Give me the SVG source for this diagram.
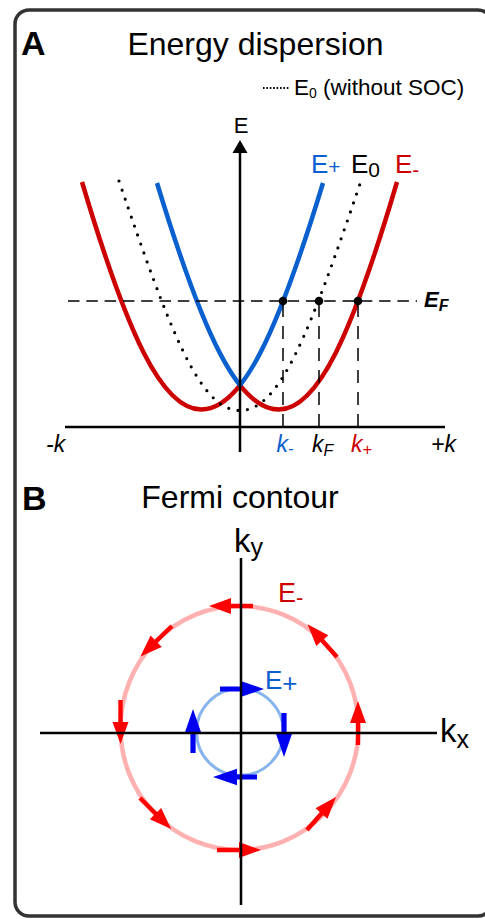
<svg xmlns="http://www.w3.org/2000/svg" xmlns:xlink="http://www.w3.org/1999/xlink" width="485" height="919" viewBox="0 0 485 919">
<style>
text{font-family:"Liberation Sans",Arial,sans-serif;}
.ax{stroke:#000;stroke-width:2.5;fill:none;}
.red{stroke:#cc0000;stroke-width:4.5;fill:none;}
.blue{stroke:#0a60cf;stroke-width:4.5;fill:none;}
.dot{stroke:#000;stroke-width:3.2;fill:none;stroke-dasharray:0 9.5;stroke-linecap:round;}
.dash{stroke:#000;stroke-width:1.5;fill:none;}
.it{font-style:italic;}
</style>
<defs>
<clipPath id="cl"><rect x="0" y="0" width="240" height="460"/></clipPath>
<clipPath id="cr"><rect x="240" y="0" width="245" height="460"/></clipPath>
<path id="p1" d="M82,182 C127.41,334.42 161.67,409.5 201.5,409.5 C242,409.5 276.83,334.75 323,183"/>
<path id="p2" d="M157,183 C203.17,334.75 238,409.5 278.5,409.5 C318,409.5 351.97,334.42 397,182"/>
<path id="ra" d="M0,-2.2 H22 V-8 L44,0 L22,8 V2.2 H0 Z" fill="#ff0000"/>
<path id="ba" d="M0,-2.6 H20 V-8.3 L44,0 L20,8.3 V2.6 H0 Z" fill="#0000f0"/>
</defs>
<rect id="frame" x="15" y="10" width="477" height="906" rx="14" fill="#fff" stroke="#333" stroke-width="3.5"/>

<g id="panelA">
<text x="21" y="55" font-size="34" font-weight="bold">A</text>
<text x="255.5" y="55" font-size="32" text-anchor="middle">Energy dispersion</text>
<g id="legend">
<line x1="263" y1="88" x2="289" y2="88" stroke="#000" stroke-width="1.8" stroke-dasharray="1.6 1.8"/>
<text x="294" y="95" font-size="22.5">E<tspan font-size="14" dy="3">0</tspan><tspan dy="-3"> (without SOC)</tspan></text>
</g>
<g id="curves">
<use xlink:href="#p1" class="red" clip-path="url(#cl)"/>
<use xlink:href="#p2" class="red" clip-path="url(#cr)"/>
<use xlink:href="#p2" class="blue" clip-path="url(#cl)"/>
<use xlink:href="#p1" class="blue" clip-path="url(#cr)"/>
<path class="dot" d="M119,181 C169.8,330.2 199.5,410.5 240,410.5 C280.5,410.5 310.2,330.2 361,181"/>
</g>
<g id="fermi-level">
<line class="dash" x1="68" y1="301" x2="417" y2="301" stroke-dasharray="11.5 6.8"/>
<path class="dash" d="M283,427 V303 M319,427 V303 M358,427 V303" stroke-dasharray="13 9"/>
<circle cx="283" cy="301" r="4.3"/>
<circle cx="319" cy="301" r="4.3"/>
<circle cx="358" cy="301" r="4.3"/>
</g>
<g id="axesA">
<line class="ax" x1="65" y1="427" x2="445" y2="427"/>
<line class="ax" x1="240" y1="452" x2="240" y2="150"/>
<polygon points="240,140 232.5,153 247.5,153" fill="#000"/>
</g>
<g id="labelsA">
<text x="241" y="133" font-size="22" text-anchor="middle">E</text>
<text x="311" y="173" font-size="26" fill="#0a60cf">E<tspan font-size="21" dy="1">+</tspan></text>
<text x="351" y="173" font-size="26">E<tspan font-size="21" dy="4">0</tspan></text>
<text x="395" y="173" font-size="26" fill="#cc0000">E<tspan font-size="21" dy="4">-</tspan></text>
<text x="424" y="307" font-size="22" font-weight="bold" class="it">E<tspan font-size="16" dy="4">F</tspan></text>
<text x="46" y="452" font-size="23" class="it">-k</text>
<text x="431" y="452" font-size="23" class="it">+k</text>
<text x="276.5" y="452" font-size="23" class="it" fill="#0a60cf">k<tspan font-size="16" dy="2">-</tspan></text>
<text x="312" y="452" font-size="23" class="it">k<tspan font-size="16" dy="3.5">F</tspan></text>
<text x="351" y="452" font-size="23" class="it" fill="#cc0000">k<tspan font-size="16" dy="3">+</tspan></text>
</g>
</g>

<g id="panelB">
<text x="22" y="510" font-size="34" font-weight="bold">B</text>
<text x="240" y="508" font-size="32" text-anchor="middle">Fermi contour</text>
<g id="outer-contour">
<ellipse cx="239.5" cy="728" rx="119" ry="122" fill="none" stroke="#ffb0b0" stroke-width="4.5"/>
<use xlink:href="#ra" transform="translate(253,606) rotate(180)"/>
<use xlink:href="#ra" transform="translate(172,626) rotate(136)"/>
<use xlink:href="#ra" transform="translate(120.5,700) rotate(90)"/>
<use xlink:href="#ra" transform="translate(140,798) rotate(45)"/>
<use xlink:href="#ra" transform="translate(217,850)"/>
<use xlink:href="#ra" transform="translate(307,830) rotate(-48.8)"/>
<use xlink:href="#ra" transform="translate(358,745) rotate(-90)"/>
<use xlink:href="#ra" transform="translate(337,657) rotate(-132)"/>
</g>
<g id="inner-contour">
<circle cx="240" cy="732" r="43.5" fill="none" stroke="#88b4ee" stroke-width="3"/>
<use xlink:href="#ba" transform="translate(220,689)"/>
<use xlink:href="#ba" transform="translate(284,713) rotate(90)"/>
<use xlink:href="#ba" transform="translate(257,777) rotate(180)"/>
<use xlink:href="#ba" transform="translate(193,753) rotate(-90)"/>
</g>
<g id="axesB">
<line class="ax" x1="40" y1="733" x2="437" y2="733"/>
<line class="ax" x1="241" y1="558" x2="241" y2="905"/>
</g>
<g id="labelsB">
<text x="234" y="552" font-size="33" >k<tspan font-size="25" dy="4">y</tspan></text>
<text x="440" y="742" font-size="33">k<tspan font-size="25" dy="6">x</tspan></text>
<text x="278" y="602" font-size="27" fill="#cc0000">E<tspan font-size="22" dy="3">-</tspan></text>
<text x="265" y="689" font-size="26" fill="#0a60cf">E<tspan font-size="26" dy="3">+</tspan></text>
</g>
</g>
</svg>
